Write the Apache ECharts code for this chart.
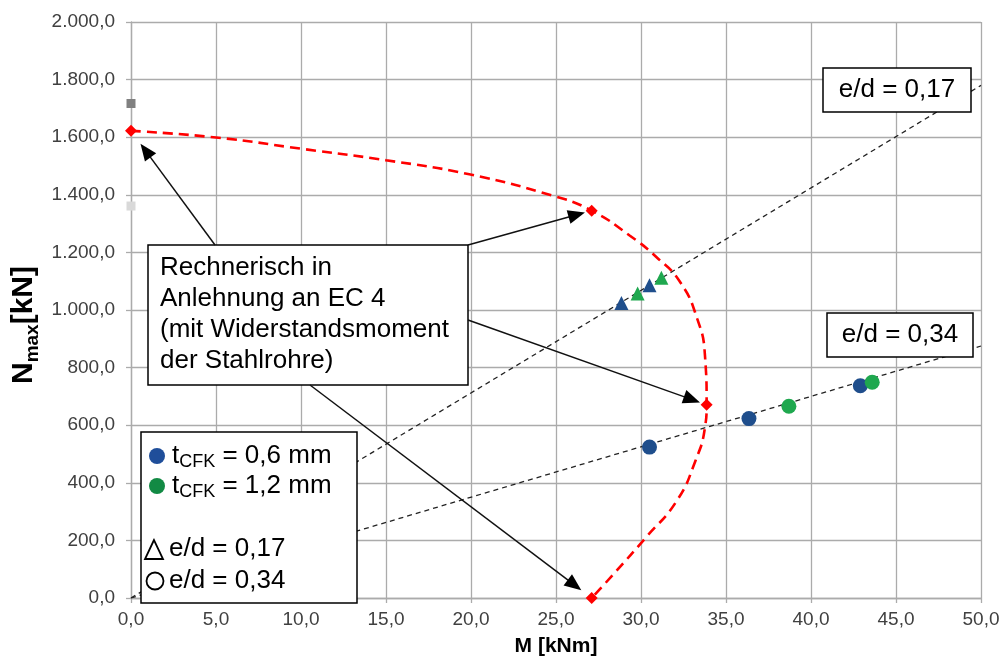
<!DOCTYPE html>
<html><head><meta charset="utf-8">
<script src="https://cdn.jsdelivr.net/npm/echarts@6/dist/echarts.min.js"></script>
<style>html,body{margin:0;padding:0;background:#fff}#c{width:1003px;height:662px}</style>
</head><body><div id="c"></div>
<script>
// ---- data (M [kNm], N [kN]) ----
const xMin = 0, xMax = 50, xStep = 5;
const yMin = 0, yMax = 2000, yStep = 200;
const redCurve = [[0,1622],[5.0,1599],[10.0,1560],[15.0,1520],[19.9,1471],[24.8,1397],[27.1,1345],
  [29.35,1258],[30.9,1184],[32.3,1097],[33.3,971],[33.76,844],[33.86,671],[33.76,591],[33.2,476],
  [32.1,337],[30.3,211],[28.4,84],[27.1,0]];
const redPoints = [[0,1622],[27.1,1345],[33.86,671],[27.1,0]];
const greyDark = [[0,1717]];
const greyLight = [[0,1361]];
const blueTri = [[28.85,1024],[30.5,1086]];
const greenTri = [[29.8,1057],[31.2,1112]];
const blueCirc = [[30.5,524],[36.35,623],[42.9,737]];
const greenCirc = [[38.7,666],[43.6,749]];
const line017 = [[0,0],[50,1780]];
const line034 = [[0,0],[50,875]];
const boxTexts = ['Rechnerisch in','Anlehnung an EC 4','(mit Widerstandsmoment','der Stahlrohre)'];

const FONT = '"Liberation Sans", Arial, sans-serif';
function fmt(v){
  const s = Number(v).toFixed(1).split('.');
  return s[0].replace(/\B(?=(\d{3})+(?!\d))/g,'.') + ',' + s[1];
}
const gridColor = '#ababab';
const chart = echarts.init(document.getElementById('c'));
const axisCommon = {
  type:'value',
  axisLine:{show:true, lineStyle:{color:gridColor, width:1.3}},
  axisTick:{show:true, length:5, lineStyle:{color:gridColor, width:1.3}},
  splitLine:{show:true, lineStyle:{color:gridColor, width:1.3}},
  axisLabel:{formatter:fmt, fontSize:19, color:'#404040', fontFamily:FONT}
};
const dash = (color,w,t)=>({color:color, width:w, type:t});
const solid = c => ({color:c, opacity:1});
const option = {
  animation:false,
  backgroundColor:'#fff',
  grid:{left:131, right:22, top:22, bottom:61},
  xAxis: Object.assign({}, axisCommon, {min:xMin, max:xMax, interval:xStep,
    axisLabel:Object.assign({}, axisCommon.axisLabel, {margin:12}),
    name:'M [kNm]', nameLocation:'middle', nameGap:38,
    nameTextStyle:{fontWeight:'bold', fontSize:21, color:'#000', fontFamily:FONT}}),
  yAxis: Object.assign({}, axisCommon, {min:yMin, max:yMax, interval:yStep,
    axisLabel:Object.assign({}, axisCommon.axisLabel, {margin:16})}),
  series:[
    {type:'line', data:line017, showSymbol:false, silent:true, z:2, lineStyle:dash('#222',1.3,[5,4])},
    {type:'line', data:line034, showSymbol:false, silent:true, z:2, lineStyle:dash('#222',1.3,[5,4])},
    {type:'line', data:redCurve, smooth:0.5, showSymbol:false, silent:true, z:3, lineStyle:dash('#ff0000',2.6,[10,6])},
    {type:'scatter', data:redPoints, symbol:'diamond', symbolSize:12, itemStyle:solid('#ff0000'), z:5},
    {type:'scatter', data:greyDark, symbol:'rect', symbolSize:9, itemStyle:solid('#808080'), z:5},
    {type:'scatter', data:greyLight, symbol:'rect', symbolSize:9, itemStyle:solid('#d9d9d9'), z:5},
    {type:'scatter', data:blueTri, symbol:'triangle', symbolSize:14, itemStyle:solid('#1f4e8c'), z:5},
    {type:'scatter', data:greenTri, symbol:'triangle', symbolSize:14, itemStyle:solid('#1fa84f'), z:5},
    {type:'scatter', data:blueCirc, symbol:'circle', symbolSize:15, itemStyle:solid('#1f4e8c'), z:5},
    {type:'scatter', data:greenCirc, symbol:'circle', symbolSize:15, itemStyle:solid('#1fa84f'), z:5}
  ]
};
chart.setOption(option);

function arrow(start, target, gap){
  const t = chart.convertToPixel({gridIndex:0}, target);
  let dx = t[0]-start[0], dy = t[1]-start[1];
  const len = Math.sqrt(dx*dx+dy*dy); dx/=len; dy/=len;
  const tip = [t[0]-dx*gap, t[1]-dy*gap];
  const L = 17, W = 7;
  const base = [tip[0]-dx*L, tip[1]-dy*L];
  const px = -dy, py = dx;
  return [
    {type:'line', z:50, shape:{x1:start[0], y1:start[1], x2:base[0]+dx*2, y2:base[1]+dy*2}, style:{stroke:'#111', lineWidth:1.5}},
    {type:'polygon', z:50, shape:{points:[tip,[base[0]+px*W, base[1]+py*W],[base[0]-px*W, base[1]-py*W]]}, style:{fill:'#000'}}
  ];
}
const g = [];
// y axis name
g.push({type:'text', z:60, x:24, y:325, rotation:Math.PI/2,
  style:{text:'{a|N}{b|max}{a|[kN]}', align:'center', verticalAlign:'middle',
    rich:{a:{fontSize:30, fontWeight:'bold', fontFamily:FONT, fill:'#000', lineHeight:36},
          b:{fontSize:19, fontWeight:'bold', fontFamily:FONT, fill:'#000', lineHeight:20, verticalAlign:'bottom'}}}});
// annotation box
g.push({type:'rect', z:40, shape:{x:148, y:245, width:320, height:140}, style:{fill:'#fff', stroke:'#000', lineWidth:1.5}});
g.push({type:'text', z:41, x:160, y:252, style:{text:boxTexts.join('\n'), font:'26px '+FONT, fill:'#000', lineHeight:31, align:'left', verticalAlign:'top'}});
g.push(...arrow([215,245], redPoints[0], 16));
g.push(...arrow([468,245], redPoints[1], 7));
g.push(...arrow([468,320], redPoints[2], 7));
g.push(...arrow([310,385], redPoints[3], 13));
// e/d boxes
g.push({type:'rect', z:40, shape:{x:823, y:68, width:148, height:44}, style:{fill:'#fff', stroke:'#000', lineWidth:1.5}});
g.push({type:'text', z:41, x:897, y:90, style:{text:'e/d = 0,17', font:'26px '+FONT, fill:'#000', align:'center', verticalAlign:'middle'}});
g.push({type:'rect', z:40, shape:{x:827, y:313, width:146, height:44}, style:{fill:'#fff', stroke:'#000', lineWidth:1.5}});
g.push({type:'text', z:41, x:900, y:335, style:{text:'e/d = 0,34', font:'26px '+FONT, fill:'#000', align:'center', verticalAlign:'middle'}});
// legend
g.push({type:'rect', z:40, shape:{x:141, y:432, width:216, height:171}, style:{fill:'#fff', stroke:'#000', lineWidth:1.5}});
g.push({type:'circle', z:41, shape:{cx:157, cy:456, r:8}, style:{fill:'#1f4e9a'}});
g.push({type:'circle', z:41, shape:{cx:157, cy:486, r:8}, style:{fill:'#128a44'}});
const legRich = {a:{fontSize:26, fontFamily:FONT, fill:'#000', lineHeight:30},
                 b:{fontSize:18, fontFamily:FONT, fill:'#000', lineHeight:12, verticalAlign:'bottom'}};
g.push({type:'text', z:41, x:172, y:456, style:{text:'{a|t}{b|CFK}{a| = 0,6 mm}', rich:legRich, align:'left', verticalAlign:'middle'}});
g.push({type:'text', z:41, x:172, y:486, style:{text:'{a|t}{b|CFK}{a| = 1,2 mm}', rich:legRich, align:'left', verticalAlign:'middle'}});
g.push({type:'polygon', z:41, shape:{points:[[154,540],[145,559],[163,559]]}, style:{fill:'none', stroke:'#000', lineWidth:1.8}});
g.push({type:'circle', z:41, shape:{cx:155, cy:581, r:8.5}, style:{fill:'none', stroke:'#000', lineWidth:1.8}});
g.push({type:'text', z:41, x:169, y:549, style:{text:'e/d = 0,17', font:'26px '+FONT, fill:'#000', align:'left', verticalAlign:'middle'}});
g.push({type:'text', z:41, x:169, y:581, style:{text:'e/d = 0,34', font:'26px '+FONT, fill:'#000', align:'left', verticalAlign:'middle'}});
chart.setOption({graphic:g});
</script></body></html>
